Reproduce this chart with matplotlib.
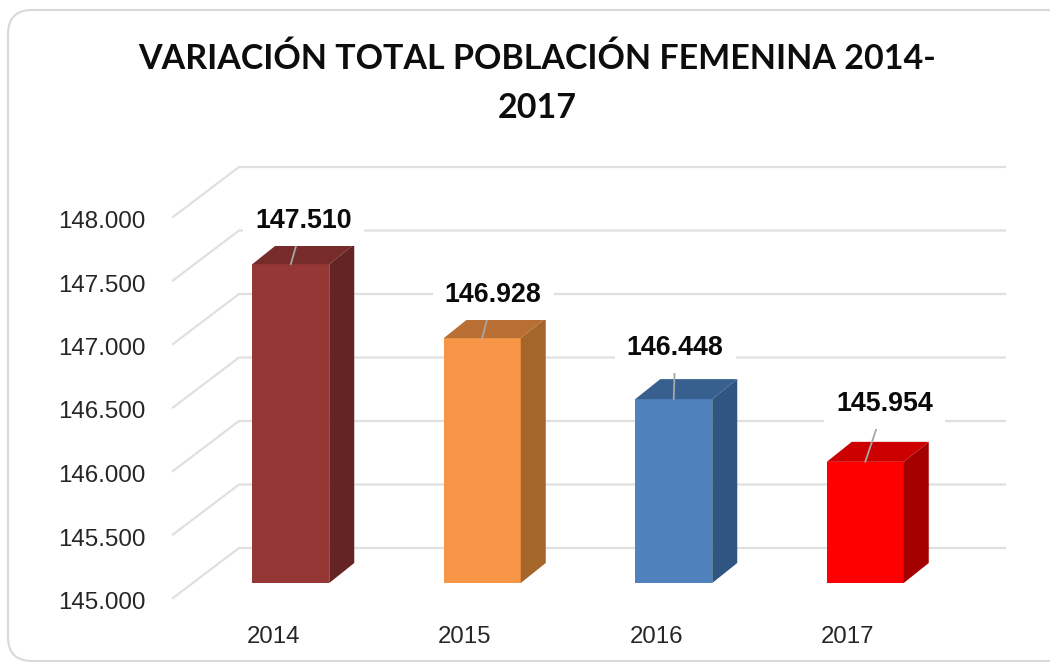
import matplotlib
matplotlib.use('Agg')
import matplotlib.pyplot as plt
from matplotlib.patches import FancyBboxPatch, Polygon
from matplotlib.transforms import Affine2D

W, H = 1050, 663

years = ['2014', '2015', '2016', '2017']
values = [147.510, 146.928, 146.448, 145.954]
value_labels = ['147.510', '146.928', '146.448', '145.954']
ticks = [145.0, 145.5, 146.0, 146.5, 147.0, 147.5, 148.0]
tick_labels = ['145.000', '145.500', '146.000', '146.500', '147.000', '147.500', '148.000']

front_cols = ['#953735', '#f79646', '#4f81bd', '#ff0000']
top_cols = ['#772c2a', '#b96f33', '#38608f', '#cc0000']
side_cols = ['#632423', '#a5662a', '#2f5581', '#a50000']

# where each data label sits relative to the bar top, in pixels
label_off = [(12.5, 43), (11, 43), (1.5, 51), (19.5, 58)]

fig = plt.figure(figsize=(W / 100, H / 100), dpi=100)

# rounded chart frame
frame = FancyBboxPatch((8, 2), 1062, 651, boxstyle='round,pad=0,rounding_size=24',
                       transform=None, fc='white', ec='#d9d9d9', lw=1.5, zorder=-1)
fig.patches.append(frame)

ax = fig.add_axes([173 / W, 1 - 598 / H, 766 / W, 381 / H])
ax.patch.set_visible(False)
ax.set_xlim(-0.5, 3.5)
ax.set_ylim(145, 148)

px_x = 766 / 4
px_y = 381 / 3

# 3d offsets: back wall, bar position inside the depth, bar depth
wall_x, wall_y = 66 / px_x, 50 / px_y
shift_x, shift_y = 22 / px_x, 15 / px_y
depth_x, depth_y = 25 / px_x, 20 / px_y
bar_w = 77 / px_x

for t in ticks:
    ax.plot([-0.5, -0.5 + wall_x, 3.5 + wall_x], [t, t + wall_y, t + wall_y],
            color='#e0e0e0', lw=1.6, clip_on=False, zorder=1)

for i, v in enumerate(values):
    x0 = i + shift_x - bar_w / 2
    x1 = i + shift_x + bar_w / 2
    base = 145 + shift_y
    top = v + shift_y
    ax.bar(i + shift_x, v - 145, bottom=base, width=bar_w, color=front_cols[i],
           clip_on=False, zorder=3)
    ax.add_patch(Polygon([(x0, top), (x1, top), (x1 + depth_x, top + depth_y), (x0 + depth_x, top + depth_y)],
                         fc=top_cols[i], ec='none', clip_on=False, zorder=3))
    ax.add_patch(Polygon([(x1, base), (x1 + depth_x, base + depth_y), (x1 + depth_x, top + depth_y), (x1, top)],
                         fc=side_cols[i], ec='none', clip_on=False, zorder=3))
    ax.annotate(value_labels[i], xy=(i + shift_x, top), xytext=label_off[i],
                textcoords='offset pixels', ha='center', va='center',
                family='Liberation Sans', fontweight='bold', fontsize=19.3, color='#0a0a0a',
                bbox=dict(boxstyle='square,pad=0.45', fc='white', ec='none'),
                arrowprops=dict(arrowstyle='-', color='#a6a6a6', lw=1.3, shrinkA=0, shrinkB=0),
                annotation_clip=False, zorder=5)

ax.set_xticks(range(4))
ax.set_xticklabels(years, family='Liberation Sans', fontsize=17.3, color='#262626')
ax.set_yticks(ticks)
ax.set_yticklabels(tick_labels, family='Liberation Sans', fontsize=17.4, color='#262626')
ax.tick_params(axis='both', length=0)
ax.tick_params(axis='x', pad=20)
ax.tick_params(axis='y', pad=20)
for lbl in ax.get_xticklabels():
    lbl.set_transform(lbl.get_transform() + Affine2D().translate(4.5, 0))
for lbl in ax.get_yticklabels():
    lbl.set_transform(lbl.get_transform() + Affine2D().translate(0, -2.5))
for s in ax.spines.values():
    s.set_visible(False)

fig.text(537 / W, 1 - 83 / H, 'VARIACIÓN TOTAL POBLACIÓN FEMENINA 2014-\n2017',
         ha='center', va='center', family='Lato', fontweight='bold', fontsize=24.5,
         color='#0d0d0d', linespacing=1.65)

plt.savefig('out.png', dpi=100)
print('done')
